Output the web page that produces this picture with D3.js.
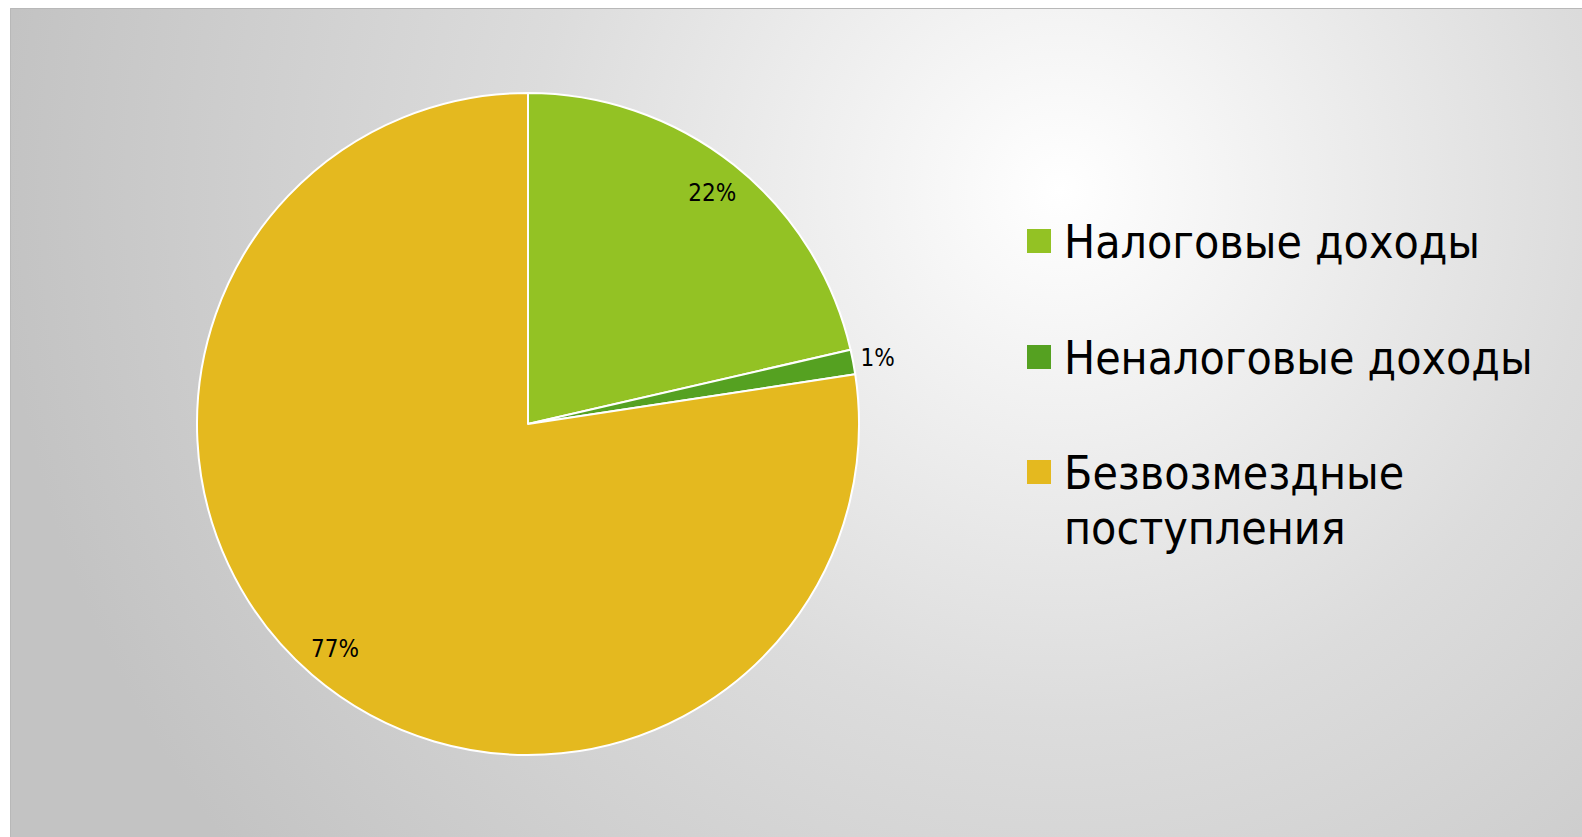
<!DOCTYPE html>
<html lang="ru">
<head>
<meta charset="UTF-8">
<title>Доходы</title>
<style>
    body { margin: 0; background: #ffffff; overflow: hidden; }
    svg { display: block; }
    text { font-family: 'DejaVu Sans Condensed', 'DejaVu Sans', sans-serif; fill: #000; }
</style>
</head>
<body>
<svg id="chart" width="1582" height="837"></svg>
<script src="https://d3js.org/d3.v7.min.js"></script>
<script>
// данные
const categories = ["Налоговые доходы", "Неналоговые доходы", "Безвозмездные поступления"];
const values = [21.4, 1.2, 77.4];
const pctLabels = ["22%", "1%", "77%"];
const colors = ["#93c224", "#55a121", "#e4b91f"];

const W = 1582, H = 837;
const svg = d3.select("#chart");

// фон с градиентом
const defs = svg.append("defs");
const grad = defs.append("radialGradient")
    .attr("id", "bg")
    .attr("gradientUnits", "userSpaceOnUse")
    .attr("cx", 1060).attr("cy", 190).attr("r", 1060);
grad.append("stop").attr("offset", "0%").attr("stop-color", "#ffffff");
grad.append("stop").attr("offset", "50%").attr("stop-color", "#dcdcdc");
grad.append("stop").attr("offset", "100%").attr("stop-color", "#c3c3c3");

svg.append("rect")
    .attr("x", 10).attr("y", 8)
    .attr("width", W - 10).attr("height", H - 8)
    .attr("fill", "url(#bg)");
svg.append("path")
    .attr("d", `M10.5,${H} V8.5 H${W}`)
    .attr("fill", "none")
    .attr("stroke", "#b8b8b8")
    .attr("stroke-width", 1);

// круговая диаграмма
const cx = 528, cy = 424, radius = 331;
const data = categories.map((c, i) => ({ name: c, value: values[i], label: pctLabels[i], color: colors[i] }));
const pie = d3.pie().sort(null).value(d => d.value);
const arc = d3.arc().innerRadius(0).outerRadius(radius);
const labelArc = d3.arc().innerRadius(296).outerRadius(296);

const g = svg.append("g").attr("transform", `translate(${cx},${cy})`);
const arcs = pie(data);

g.selectAll("path.slice")
    .data(arcs)
    .enter().append("path")
    .attr("class", "slice")
    .attr("d", arc)
    .attr("fill", d => d.data.color)
    .attr("stroke", "#ffffff")
    .attr("stroke-width", 2)
    .attr("stroke-linejoin", "round");

// подписи процентов
g.selectAll("text.pct")
    .data(arcs)
    .enter().append("text")
    .attr("class", "pct")
    .attr("transform", (d, i) => {
        if (i === 1) {
            // маленький сектор — подпись снаружи
            const a = (d.startAngle + d.endAngle) / 2;
            const r = radius + 25;
            return `translate(${Math.sin(a) * r},${-Math.cos(a) * r})`;
        }
        return `translate(${labelArc.centroid(d)})`;
    })
    .attr("text-anchor", "middle")
    .attr("dy", "0.36em")
    .style("font-size", "24px")
    .text(d => d.data.label);

// легенда
const legendRows = [
    { lines: ["Налоговые доходы"], y: 241 },
    { lines: ["Неналоговые доходы"], y: 357 },
    { lines: ["Безвозмездные", "поступления"], y: 472 }
];
const legend = svg.append("g").attr("class", "legend");
legendRows.forEach((row, i) => {
    legend.append("rect")
        .attr("x", 1027).attr("y", row.y - 12)
        .attr("width", 24).attr("height", 24)
        .attr("fill", colors[i]);
    row.lines.forEach((t, j) => {
        legend.append("text")
            .attr("x", 1064)
            .attr("y", row.y + j * 55)
            .attr("dy", "0.36em")
            .style("font-size", "46px")
            .text(t);
    });
});
</script>
</body>
</html>
